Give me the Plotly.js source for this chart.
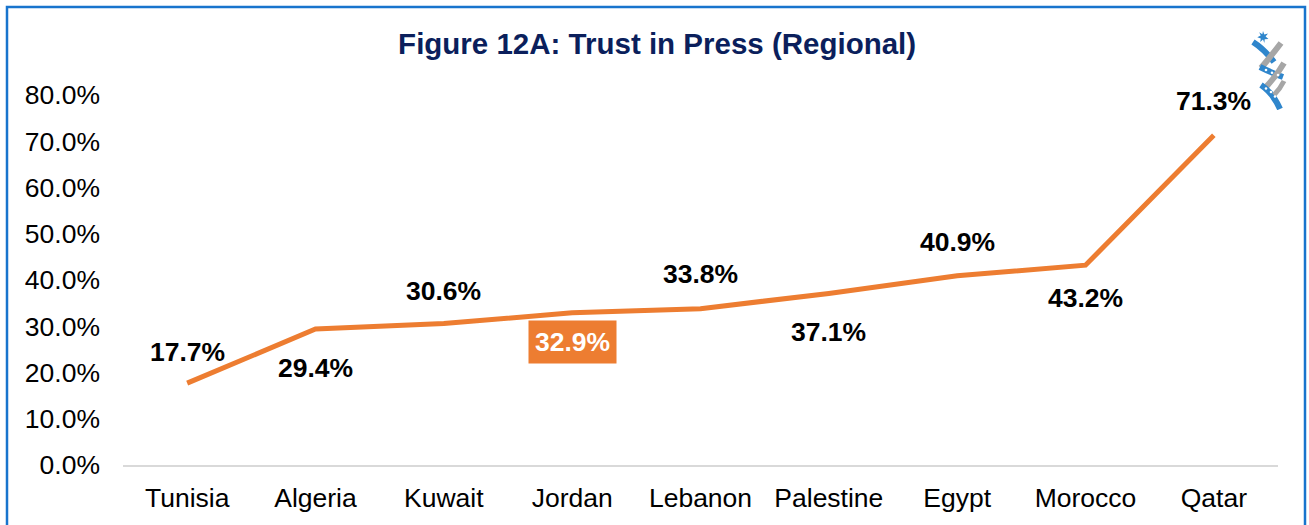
<!DOCTYPE html>
<html>
<head>
<meta charset="utf-8">
<script src="https://cdn.plot.ly/plotly-3.0.1.min.js"></script>
<style>html,body{margin:0;padding:0;background:#fff;}#chart{width:1309px;height:525px;}</style>
</head>
<body>
<div id="chart"></div>
<script>
const countries = ["Tunisia","Algeria","Kuwait","Jordan","Lebanon","Palestine","Egypt","Morocco","Qatar"];
const trustValues = [17.7, 29.4, 30.6, 32.9, 33.8, 37.1, 40.9, 43.2, 71.3];
const highlighted = "Jordan";
const yTickValues = [0,10,20,30,40,50,60,70,80];
const yTickLabels = yTickValues.map(v => v.toFixed(1) + "%");

// label offsets in pixels (style, not data)
const labelShift = [31, -39, 32, -29, 35, -39, 34, -33, 34];

const FONT = "Arial, 'Liberation Sans', sans-serif";
const ORANGE = "#ED7D31";

const trace = {
  type: "scatter",
  mode: "lines",
  x: countries,
  y: trustValues,
  line: {color: ORANGE, width: 5},
  hoverinfo: "skip"
};

const annotations = countries.map((c, i) => {
  const hl = c === highlighted;
  return {
    x: c, y: trustValues[i], xref: "x", yref: "y",
    text: trustValues[i].toFixed(1) + "%",
    showarrow: false,
    yshift: labelShift[i],
    font: {family: FONT, size: 26.5, color: hl ? "#ffffff" : "#000000", weight: "bold"},
    bgcolor: hl ? ORANGE : "rgba(0,0,0,0)",
    borderpad: hl ? 6 : 5
  };
});

const logoSvg = `<svg xmlns="http://www.w3.org/2000/svg" viewBox="0 0 40 85" width="40" height="85">
<polygon fill="#2F86CC" points="15,6 16.3,9.6 20,8.5 17.6,11.5 20.5,14 16.7,14.3 16.4,18 15,14.6 12.2,17 12.8,13.4 9.3,12.2 12.7,10.6 11.2,7.2 14.3,9.2"/>
<path d="M5,17 Q16,24 26,37" stroke="#2F86CC" stroke-width="6" fill="none" stroke-linecap="butt"/>
<path d="M33,18 Q24,30 13,43" stroke="#A6A6A6" stroke-width="6" fill="none"/>
<path d="M12,42 Q24,48 35,52" stroke="#2F86CC" stroke-width="6" fill="none"/>
<path d="M36,38 Q28,52 16,64" stroke="#A6A6A6" stroke-width="6" fill="none"/>
<path d="M13,60 Q25,68 32,84" stroke="#2F86CC" stroke-width="6" fill="none"/>
<path d="M36,56 Q32,64 26,70" stroke="#A6A6A6" stroke-width="5" fill="none"/>
<circle cx="18" cy="45" r="1.3" fill="#fff"/><circle cx="24" cy="47.8" r="1.3" fill="#fff"/><circle cx="30" cy="50" r="1.3" fill="#fff"/>
<circle cx="18" cy="63.5" r="1.3" fill="#fff"/><circle cx="23" cy="67" r="1.3" fill="#fff"/><circle cx="27" cy="71.5" r="1.3" fill="#fff"/>
</svg>`;

const L = 123, R = 1278, T = 95, B = 465, W = 1309, H = 525;
const pw = R - L, ph = B - T;
const px = v => (v - L) / pw;
const py = v => (B - v) / ph;

const layout = {
  width: W, height: H,
  margin: {l: L, r: W - R, t: T, b: H - B, pad: 0},
  paper_bgcolor: "#ffffff",
  plot_bgcolor: "#ffffff",
  showlegend: false,
  font: {family: FONT, color: "#000000"},
  title: {
    text: "Figure 12A: Trust in Press (Regional)",
    font: {family: FONT, size: 29.5, color: "#0B1F5C", weight: "bold"},
    xref: "container", yref: "container",
    x: 0.502, xanchor: "center",
    y: 1 - 44 / H, yanchor: "middle"
  },
  xaxis: {
    type: "category",
    range: [-0.5, countries.length - 0.5],
    showgrid: false, zeroline: false,
    showline: true, linecolor: "#D9D9D9", linewidth: 1.5,
    ticks: "",
    tickfont: {family: FONT, size: 26.5, color: "#000000"},
    ticklabelstandoff: 9,
    fixedrange: true
  },
  yaxis: {
    range: [0, 80],
    tickvals: yTickValues,
    ticktext: yTickLabels,
    showgrid: false, zeroline: false, showline: false,
    ticks: "",
    tickfont: {family: FONT, size: 26.5, color: "#000000"},
    ticklabelstandoff: 22,
    fixedrange: true
  },
  annotations: annotations,
  shapes: [{
    type: "rect", xref: "paper", yref: "paper",
    x0: px(7), x1: px(1305), y0: py(560), y1: py(7),
    line: {color: "#1874CD", width: 2.5},
    fillcolor: "rgba(0,0,0,0)",
    layer: "below"
  }],
  images: [{
    source: "data:image/svg+xml;charset=utf-8," + encodeURIComponent(logoSvg),
    xref: "paper", yref: "paper",
    x: px(1248), y: py(25),
    sizex: 40 / pw, sizey: 85 / ph,
    xanchor: "left", yanchor: "top",
    sizing: "stretch",
    layer: "above"
  }]
};

Plotly.newPlot("chart", [trace], layout, {displayModeBar: false, staticPlot: true});
</script>
</body>
</html>
